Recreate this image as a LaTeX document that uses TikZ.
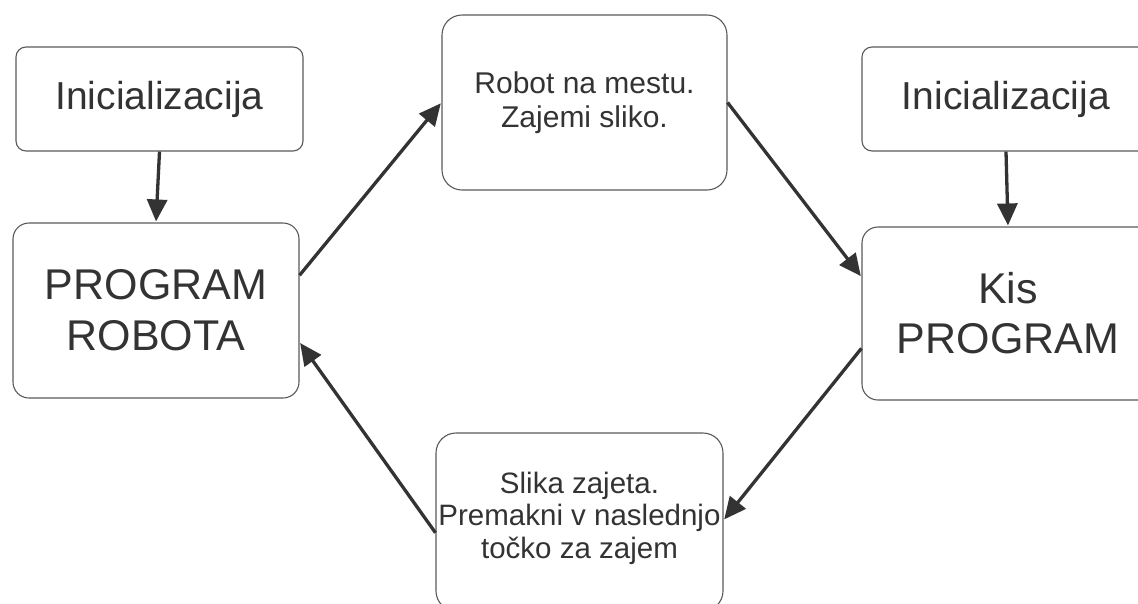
\documentclass[tikz,border=0pt]{standalone}
\usepackage{fontspec}
\setmainfont{Liberation Sans}
\usetikzlibrary{arrows.meta,calc}
\definecolor{txt}{HTML}{333333}
\definecolor{brd}{HTML}{5A5A5A}
\tikzset{
  box/.style={draw=brd, line width=1.1pt, fill=white, text=txt, align=center, inner sep=0pt, rounded corners=#1},
  box/.default=16pt,
  flow/.style={draw=txt, line width=3.3pt, -{Triangle[length=22pt,width=20pt]}, shorten >=1pt}
}
\begin{document}
\begin{tikzpicture}[x=1pt,y=-1pt]
\useasboundingbox (0,0) rectangle (1138,603);
\node[box=10pt, minimum width=287pt, minimum height=104pt, font=\fontsize{39}{47}\selectfont] (init1) at (159.5,99) {Inicializacija};
\node[box=16pt, minimum width=286pt, minimum height=175pt, font=\fontsize{43}{51}\selectfont] (pr) at (156,310.5) {PROGRAM\\ROBOTA};
\node[box=20pt, minimum width=285pt, minimum height=175pt, font=\fontsize{30}{33.5}\selectfont] (robot) at (584.5,102.5) {Robot na mestu.\\Zajemi sliko.};
\node[box=10pt, minimum width=288pt, minimum height=104pt, font=\fontsize{39}{47}\selectfont] (init2) at (1006,99) {Inicializacija};
\node[box=16pt, minimum width=292pt, minimum height=173pt, font=\fontsize{43}{50}\selectfont] (kis) at (1008,313.5) {Kis\\PROGRAM};
\node[box=20pt, minimum width=287pt, minimum height=178pt, font=\fontsize{29.5}{32.5}\selectfont] (slika) at (579.5,522) {};
\node[text=txt, align=center, inner sep=0pt, font=\fontsize{29.5}{32.5}\selectfont] (slikatxt) at (579.5,518) {Slika zajeta.\\Premakni v naslednjo\\točko za zajem};
\coordinate (prOut) at ($(pr.north east)!0.30!(pr.south east)$);
\coordinate (prIn) at ($(pr.north east)!0.68!(pr.south east)$);
\coordinate (kisIn) at ($(kis.north west)!0.29!(kis.south west)$);
\coordinate (kisOut) at ($(kis.north west)!0.70!(kis.south west)$);
\coordinate (slIn) at ($(slika.north east)!0.49!(slika.south east)$);
\coordinate (slOut) at ($(slika.north west)!0.56!(slika.south west)$);
\draw[flow] (init1.south) -- (pr.north);
\draw[flow] (init2.south) -- (kis.north);
\draw[flow] (prOut) -- (robot.west);
\draw[flow] (robot.east) -- (kisIn);
\draw[flow] (kisOut) -- (slIn);
\draw[flow] (slOut) -- (prIn);
\end{tikzpicture}
\end{document}
